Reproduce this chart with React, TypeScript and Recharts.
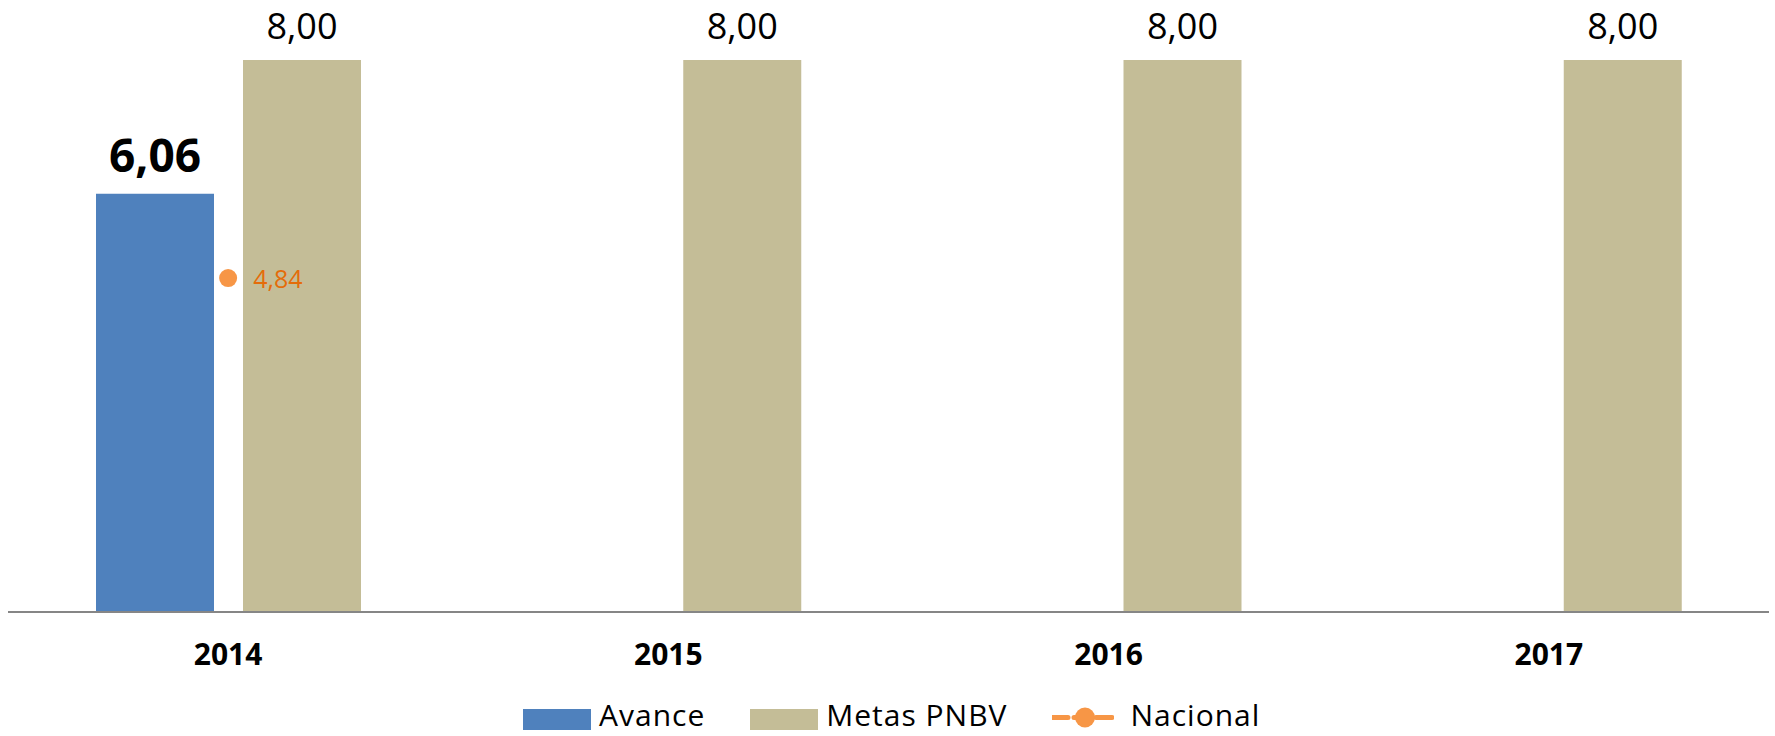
import { ComposedChart, Bar, Line, XAxis, YAxis, Legend, LabelList } from 'recharts';

const years = ['2014', '2015', '2016', '2017'];
const avance = [6.06, null, null, null];
const metas = [8, 8, 8, 8];
const nacional = [4.84, null, null, null];

const data = years.map((year, i) => ({
    year,
    avance: avance[i],
    metas: metas[i],
    nacional: nacional[i],
}));

const BLUE = '#4f81bd';
const TAN = '#c4bd97';
const ORANGE = '#f79646';
const FONT = '"Open Sans", sans-serif';

const fmt = (v: any) => (v == null ? '' : Number(v).toFixed(2).replace('.', ','));

const NacionalLabel = (props: any) => {
    const { x, y, value } = props;
    if (value == null || x == null || y == null) return null;
    return (
        <text x={x + 25} y={y + 10} fill="#e46c0a" fontSize={25} fontFamily={FONT} textAnchor="start">
            {fmt(value)}
        </text>
    );
};

// legend icons sit a bit lower than the text baseline, like the original
const LegendContent = ({ payload }: any) => (
    <div
        style={{
            display: 'flex',
            alignItems: 'baseline',
            fontFamily: FONT,
            fontSize: 30,
            lineHeight: '30px',
            letterSpacing: 1,
            color: '#000',
        }}
    >
        {(payload || []).map((entry: any, i: number) => (
            <span key={i} style={{ display: 'flex', alignItems: 'baseline', marginRight: 45 }}>
                {entry.type === 'line' ? (
                    <svg width={62} height={21} style={{ marginRight: 16, position: 'relative', top: 2 }}>
                        <line x1={0} y1={10.5} x2={62} y2={10.5} stroke={ORANGE} strokeWidth={5} strokeDasharray="16 6" strokeLinecap="round" />
                        <circle cx={33} cy={10.5} r={10} fill={ORANGE} />
                    </svg>
                ) : (
                    <svg width={68} height={21} style={{ marginRight: 8, position: 'relative', top: 4 }}>
                        <rect width={68} height={21} fill={entry.color} />
                    </svg>
                )}
                <span>{entry.value}</span>
            </span>
        ))}
    </div>
);

export default function App() {
    return (
        <div style={{ position: 'absolute', left: 0, top: 0, width: 1775, height: 736, background: '#fff' }}>
            <ComposedChart
                width={1775}
                height={736}
                data={data}
                margin={{ top: 60, right: 6, bottom: 74, left: 8 }}
                barSize={118}
                barGap={29}
            >
                <XAxis
                    dataKey="year"
                    height={50}
                    axisLine={{ stroke: '#868686', strokeWidth: 2 }}
                    tickLine={false}
                    tickMargin={26}
                    tick={{ fill: '#000', fontSize: 30, fontWeight: 700, fontFamily: FONT }}
                />
                <YAxis hide domain={[0, 8]} />
                <Legend
                    verticalAlign="middle"
                    align="center"
                    layout="horizontal"
                    content={<LegendContent />}
                    wrapperStyle={{ top: 700, left: 523, width: 900, height: 30 }}
                />
                <Bar dataKey="avance" name="Avance" fill={BLUE} isAnimationActive={false}>
                    <LabelList
                        dataKey="avance"
                        position="top"
                        offset={22}
                        formatter={fmt}
                        fill="#000"
                        fontSize={46}
                        fontWeight={700}
                        fontFamily={FONT}
                    />
                </Bar>
                <Bar dataKey="metas" name="Metas PNBV" fill={TAN} isAnimationActive={false}>
                    <LabelList
                        dataKey="metas"
                        position="top"
                        offset={21}
                        formatter={fmt}
                        fill="#000"
                        fontSize={36}
                        fontWeight={400}
                        fontFamily={FONT}
                    />
                </Bar>
                <Line
                    dataKey="nacional"
                    name="Nacional"
                    stroke={ORANGE}
                    strokeWidth={4}
                    strokeDasharray="10 4"
                    dot={{ r: 9, fill: ORANGE, stroke: 'none' }}
                    activeDot={false}
                    legendType="line"
                    isAnimationActive={false}
                >
                    <LabelList dataKey="nacional" content={<NacionalLabel />} />
                </Line>
            </ComposedChart>
        </div>
    );
}
